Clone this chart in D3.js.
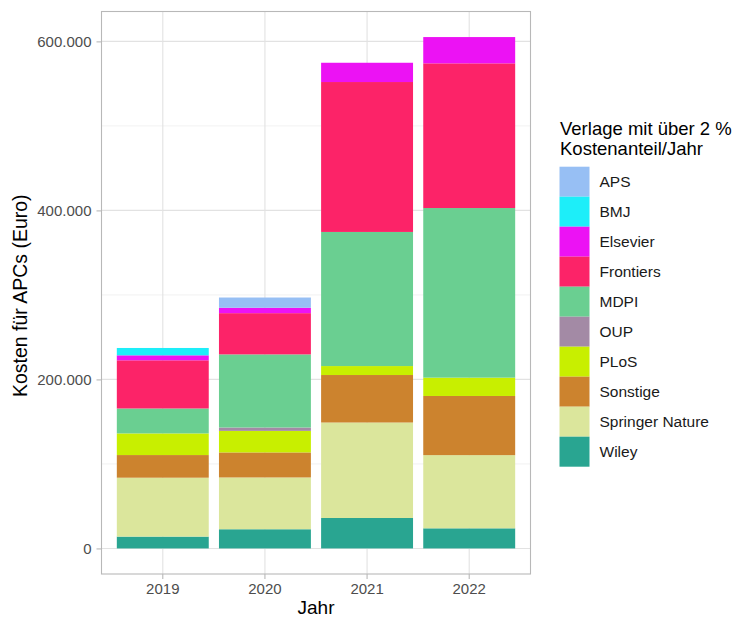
<!DOCTYPE html>
<html>
<head>
<meta charset="utf-8">
<script src="https://cdn.jsdelivr.net/npm/d3@7"></script>
<style>
  body { margin: 0; background: #fff; }
  svg { display: block; font-family: "Liberation Sans", Arial, Helvetica, sans-serif; }
</style>
</head>
<body>
<svg id="chart" width="755" height="619"></svg>
<script>
// ---- data ----
const years = ["2019", "2020", "2021", "2022"];
const publishers = ["APS", "BMJ", "Elsevier", "Frontiers", "MDPI", "OUP", "PLoS", "Sonstige", "Springer Nature", "Wiley"];
const colors = ["#97BFF4", "#1DEEF9", "#EC12F4", "#FC2368", "#6ACF91", "#A38AA5", "#C8EF00", "#CC832E", "#DBE69C", "#29A591"];
const APS       = [0, 12100, 0, 0];
const BMJ       = [8700, 0, 0, 0];
const Elsevier  = [5900, 6400, 22800, 31100];
const Frontiers = [57000, 48800, 177400, 171200];
const MDPI      = [29500, 86500, 158700, 200700];
const OUP       = [0, 4000, 0, 0];
const PLoS      = [25600, 25500, 10600, 21700];
const Sonstige  = [26800, 29600, 56200, 70000];
const Springer  = [69700, 61300, 113000, 86600];
const Wiley     = [14000, 22700, 36000, 23800];
const yTicks = [0, 200000, 400000, 600000];
const yMinorTicks = [100000, 300000, 500000];
const xTitle = "Jahr";
const yTitle = "Kosten für APCs (Euro)";
const legendTitle = ["Verlage mit über 2 %", "Kostenanteil/Jahr"];

const seriesValues = [APS, BMJ, Elsevier, Frontiers, MDPI, OUP, PLoS, Sonstige, Springer, Wiley];

// table for stacking
const table = years.map((y, i) => {
  const row = { year: y };
  publishers.forEach((p, j) => { row[p] = seriesValues[j][i]; });
  return row;
});

// stack: Wiley at the bottom, APS at the top
const stackKeys = publishers.slice().reverse();
const stacked = d3.stack().keys(stackKeys)(table);

const svg = d3.select("#chart");
const L = 101.5, R = 530.5, T = 11.5, B = 574;

const totals = table.map(r => d3.sum(publishers, p => r[p]));
const maxT = d3.max(totals);
const pad = maxT * 0.05;

const x = d3.scaleBand().domain(years).range([L, R]).paddingInner(0.1).paddingOuter(0.15);
const y = d3.scaleLinear().domain([-pad, maxT + pad]).range([B, T]);
const color = d3.scaleOrdinal().domain(publishers).range(colors);

const de = d3.formatLocale({ decimal: ",", thousands: ".", grouping: [3], currency: ["", " €"] });
const fmt = de.format(",.0f");

// panel background
svg.append("rect").attr("x", L).attr("y", T).attr("width", R - L).attr("height", B - T).attr("fill", "#fff");

// grid
const grid = svg.append("g");
grid.selectAll("line.minor").data(yMinorTicks).join("line")
  .attr("x1", L).attr("x2", R).attr("y1", d => y(d)).attr("y2", d => y(d))
  .attr("stroke", "#ededed").attr("stroke-width", 0.8);
grid.selectAll("line.majory").data(yTicks).join("line")
  .attr("x1", L).attr("x2", R).attr("y1", d => y(d)).attr("y2", d => y(d))
  .attr("stroke", "#e2e2e2").attr("stroke-width", 1.1);
grid.selectAll("line.majorx").data(years).join("line")
  .attr("x1", d => x(d) + x.bandwidth() / 2).attr("x2", d => x(d) + x.bandwidth() / 2)
  .attr("y1", T).attr("y2", B)
  .attr("stroke", "#e2e2e2").attr("stroke-width", 1.1);

// bars
svg.append("g").selectAll("g").data(stacked).join("g")
  .attr("fill", d => color(d.key))
  .selectAll("rect").data(d => d.filter(s => s[1] - s[0] > 0)).join("rect")
  .attr("x", d => x(d.data.year))
  .attr("width", x.bandwidth())
  .attr("y", d => y(d[1]))
  .attr("height", d => y(d[0]) - y(d[1]));

// panel border
svg.append("rect").attr("x", L).attr("y", T).attr("width", R - L).attr("height", B - T)
  .attr("fill", "none").attr("stroke", "#b8b8b8").attr("stroke-width", 1.1);

// y axis
const yAxis = d3.axisLeft(y).tickValues(yTicks).tickFormat(fmt).tickSize(5).tickPadding(5);
const ya = svg.append("g").attr("transform", `translate(${L},0)`).call(yAxis);
ya.select(".domain").remove();
ya.selectAll(".tick line").attr("stroke", "#b8b8b8").attr("stroke-width", 1.1);
ya.selectAll(".tick text").attr("fill", "#4d4d4d").style("font-size", "15px")
  .style("font-family", "'Liberation Sans', Arial, sans-serif");

// x axis
const xAxis = d3.axisBottom(x).tickSize(5).tickPadding(4);
const xa = svg.append("g").attr("transform", `translate(0,${B})`).call(xAxis);
xa.select(".domain").remove();
xa.selectAll(".tick line").attr("stroke", "#b8b8b8").attr("stroke-width", 1.1);
xa.selectAll(".tick text").attr("fill", "#4d4d4d").style("font-size", "15px")
  .style("font-family", "'Liberation Sans', Arial, sans-serif");

// axis titles
svg.append("text").attr("x", (L + R) / 2).attr("y", 614).attr("text-anchor", "middle")
  .style("font-size", "19px").attr("fill", "#000").text(xTitle);
svg.append("text").attr("transform", `translate(27,${(T + B) / 2 + 3}) rotate(-90)`)
  .attr("text-anchor", "middle").style("font-size", "19.5px").attr("fill", "#000").text(yTitle);

// legend
const lg = svg.append("g");
lg.selectAll("text.title").data(legendTitle).join("text")
  .attr("x", 560).attr("y", (d, i) => 135 + i * 20)
  .style("font-size", "18.5px").attr("fill", "#000").text(d => d);
const items = lg.selectAll("g.item").data(publishers).join("g")
  .attr("transform", (d, i) => `translate(559.5,${166.7 + i * 30})`);
items.append("rect").attr("width", 30).attr("height", 30).attr("fill", d => color(d));
items.append("text").attr("x", 40).attr("y", 15).attr("dy", "0.36em")
  .style("font-size", "15.5px").attr("fill", "#1a1a1a").text(d => d);
</script>
</body>
</html>
